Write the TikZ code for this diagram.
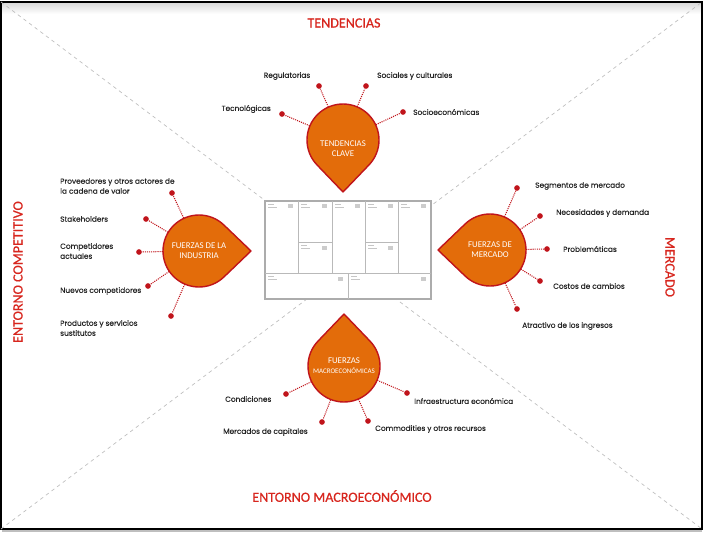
\documentclass[tikz,border=0pt]{standalone}
\usepackage{fontspec}
\usetikzlibrary{calc}
\newfontfamily\etiqfont[FakeBold=0.5]{Poppins}
\newfontfamily\titfont[FakeBold=0.6]{Carlito}
\newfontfamily\gotafont{Carlito}
\definecolor{mRojo}{HTML}{C0141B}
\definecolor{mTitulo}{HTML}{D7261E}
\definecolor{mNaranja}{HTML}{E36C0A}
\definecolor{mTexto}{HTML}{262626}
\definecolor{mGris}{HTML}{BFBFBF}

% gota: centro, direccion de la punta
\newcommand{\gota}[2]{%
  \filldraw[gota] ($(#1)+(#2:52)$) -- ($(#1)+(#2+46:36)$)
    arc[start angle=#2+46, end angle=#2+314, radius=36] -- cycle;}

\begin{document}
\begin{tikzpicture}[x=0.03cm, y=-0.03cm,
    gota/.style={fill=mNaranja, draw=mRojo, line width=1.2pt, line join=round},
    gotatxt/.style={text=white, align=center, inner sep=0pt, font=\gotafont\fontsize{7.5}{8.5}\selectfont},
    nucleo/.style={circle, minimum size=2.16cm, inner sep=0pt, gotatxt},
    punto/.style={circle, fill=mRojo, inner sep=0pt, minimum size=0.17cm},
    enlace/.style={mRojo, line width=0.9pt, dash pattern=on 0.9pt off 0.9pt},
    etiq/.style={font=\etiqfont\fontsize{6.3}{8.5}\selectfont, text=mTexto, align=left, inner sep=0pt},
    titulo/.style={font=\titfont\fontsize{12}{14}\selectfont, text=mTitulo}]

    \useasboundingbox (0,0) rectangle (703,533);
    \shade[top color=gray!30, bottom color=white] (1,2) rectangle (702,14);
    \draw[gray!50, line width=2pt] (2,531) -- (702,531);
    \draw[black, line width=1.3pt] (1,2) rectangle (702,529);
    \draw[mGris, dashed, line width=0.6pt] (1,2) -- (702,529) (1,529) -- (702,2);

    \node[titulo] (tTend) at (344,23) {TENDENCIAS};
    \node[titulo] (tMacro) at (342,496) {ENTORNO MACROECONÓMICO};
    \node[titulo, rotate=90] (tComp) at (18,272) {ENTORNO COMPETITIVO};
    \node[titulo, rotate=-90] (tMerc) at (670,267) {MERCADO};

    % lienzo
    \filldraw[fill=white, draw=gray!65, line width=1.2pt] (265,201) rectangle (431,299);
    \draw[gray!55, line width=0.6pt]
      (298,201) -- (298,273) (332,201) -- (332,273) (365,201) -- (365,273) (398,201) -- (398,273)
      (265,273) -- (431,273) (348,273) -- (348,299)
      (298,242) -- (332,242) (365,242) -- (398,242);
    \foreach \x/\y in {268/204, 301/204, 335/204, 368/204, 401/204, 301/245, 368/245, 268/276, 351/276}
      \draw[gray!45, line width=0.5pt] (\x,\y) -- ++(6,0) (\x,\y+3) -- ++(9,0);
    \foreach \x/\y in {288/204, 322/204, 355/204, 388/204, 421/204, 322/246, 388/246, 338/277, 421/277}
      \fill[gray!40] (\x,\y) rectangle ++(5,4);

    % tendencias clave
    \gota{343,140}{90}
    \node[nucleo, label={[gotatxt, yshift=-7pt]center:TENDENCIAS\\CLAVE}] (tc) at (343,140) {};
    \foreach \n/\x/\y/\lx/\ly/\a/\t in {
        1/319/86/287/76/center/Regulatorias,
        2/366/86/377/76/west/Sociales y culturales,
        3/282/114/271/109/east/Tecnológicas,
        4/403/112/413/112/west/Socioeconómicas}{
      \node[punto] (tc\n) at (\x,\y) {};
      \draw[enlace] (tc) -- (tc\n);
      \node[etiq, anchor=\a] (etc\n) at (\lx,\ly) {\t};
    }

    % fuerzas de la industria
    \gota{199,251}{0}
    \node[nucleo] (fi) at (199,251) {FUERZAS DE LA\\INDUSTRIA};
    \foreach \n/\x/\y/\lx/\ly/\t in {
        1/172/193/60/186/Proveedores y otros actores de\\la cadena de valor,
        2/146/219/60/219/Stakeholders,
        3/139/252/60/251/Competidores\\actuales,
        4/148/286/60/291/Nuevos competidores,
        5/171/316/60/328/Productos y servicios\\sustitutos}{
      \node[punto] (fi\n) at (\x,\y) {};
      \draw[enlace] (fi) -- (fi\n);
      \node[etiq, anchor=west] (efi\n) at (\lx,\ly) {\t};
    }

    % fuerzas de mercado
    \gota{490,250}{180}
    \node[nucleo] (fm) at (490,250) {FUERZAS DE\\MERCADO};
    \foreach \n/\x/\y/\lx/\ly/\t in {
        1/517/188/535/186/Segmentos de mercado,
        2/540/216/556/213/Necesidades y demanda,
        3/547/249/563/249/Problemáticas,
        4/540/281/553/286/Costos de cambios,
        5/517/309/522/326/Atractivo de los ingresos}{
      \node[punto] (fm\n) at (\x,\y) {};
      \draw[enlace] (fm) -- (fm\n);
      \node[etiq, anchor=west] (efm\n) at (\lx,\ly) {\t};
    }

    % fuerzas macroeconomicas
    \gota{344,366}{270}
    \node[nucleo] (fe) at (344,366) {FUERZAS\\{\fontsize{6}{7}\selectfont MACROECONÓMICAS}};
    \foreach \n/\x/\y/\lx/\ly/\t in {
        1/286/394/225/399/Condiciones,
        2/322/422/223/432/Mercados de capitales,
        3/368/421/375/429/Commodities y otros recursos,
        4/407/393/414/401/Infraestructura económica}{
      \node[punto] (fe\n) at (\x,\y) {};
      \draw[enlace] (fe) -- (fe\n);
      \node[etiq, anchor=west] (efe\n) at (\lx,\ly) {\t};
    }
\end{tikzpicture}
\end{document}
